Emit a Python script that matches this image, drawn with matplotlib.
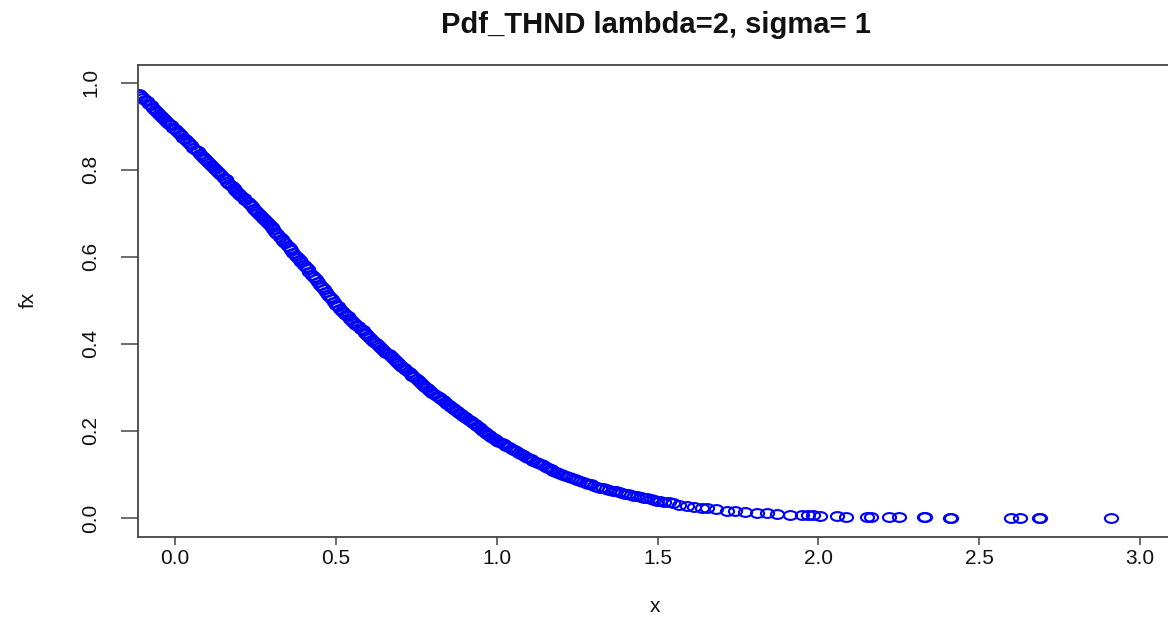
import matplotlib
matplotlib.use("Agg")
import matplotlib.pyplot as plt
from matplotlib.path import Path

plt.rcParams["font.family"] = ["Liberation Sans", "DejaVu Sans"]

# sample points (x, pdf value)
x_vals = [
    -0.112, -0.100, -0.088, -0.075, -0.062, -0.049, -0.037, -0.024, -0.012, 0.000,
    0.013, 0.026, 0.038, 0.051, 0.064, 0.077, 0.089, 0.100,
    0.112, 0.125, 0.138, 0.151, 0.163, 0.176, 0.188, 0.200,
    0.213, 0.226, 0.238, 0.251, 0.264, 0.276, 0.289, 0.300,
    0.312, 0.325, 0.337, 0.350, 0.362, 0.375, 0.387, 0.400,
    0.412, 0.425, 0.437, 0.450, 0.462, 0.475, 0.487, 0.500,
    0.513, 0.526, 0.538, 0.551, 0.564, 0.577, 0.589, 0.600,
    0.613, 0.626, 0.638, 0.651, 0.664, 0.677, 0.689, 0.700,
    0.713, 0.726, 0.738, 0.751, 0.764, 0.777, 0.789, 0.800,
    0.813, 0.826, 0.838, 0.851, 0.864, 0.877, 0.889, 0.900,
    0.913, 0.926, 0.938, 0.951, 0.964, 0.977, 0.989, 1.000,
    1.015, 1.030, 1.046, 1.061, 1.076, 1.091,
    1.106, 1.122, 1.137, 1.152, 1.168, 1.184, 1.199,
    1.216, 1.233, 1.251, 1.268, 1.285,
    1.303, 1.322, 1.341, 1.360, 1.380, 1.398,
    1.418, 1.437, 1.458, 1.479, 1.497,
    1.521, 1.547, 1.566, 1.590,
    1.614, 1.638, 1.655, 1.680,
    1.716, 1.742, 1.771, 1.808, 1.839, 1.870, 1.912, 1.948, 1.969, 1.984, 2.005,
    2.059, 2.086, 2.150, 2.162, 2.220, 2.251, 2.328, 2.330, 2.409, 2.411,
    2.598, 2.625, 2.687, 2.689, 2.909,
]
fx_vals = [
    0.975, 0.966, 0.957, 0.948, 0.938, 0.929, 0.920, 0.910, 0.902, 0.893,
    0.884, 0.874, 0.865, 0.856, 0.846, 0.837, 0.828, 0.820,
    0.811, 0.801, 0.792, 0.782, 0.773, 0.763, 0.754, 0.745,
    0.735, 0.725, 0.716, 0.706, 0.696, 0.686, 0.677, 0.668,
    0.658, 0.646, 0.636, 0.625, 0.615, 0.603, 0.593, 0.582,
    0.571, 0.559, 0.548, 0.536, 0.525, 0.513, 0.502, 0.490,
    0.481, 0.471, 0.463, 0.453, 0.444, 0.435, 0.426, 0.418,
    0.409, 0.401, 0.393, 0.384, 0.376, 0.367, 0.359, 0.352,
    0.344, 0.335, 0.327, 0.319, 0.310, 0.302, 0.294, 0.287,
    0.280, 0.273, 0.266, 0.259, 0.252, 0.245, 0.238, 0.232,
    0.225, 0.218, 0.211, 0.204, 0.197, 0.190, 0.184, 0.178,
    0.172, 0.166, 0.159, 0.153, 0.147, 0.141,
    0.135, 0.129, 0.123, 0.118, 0.112, 0.106, 0.100,
    0.096, 0.092, 0.087, 0.083, 0.079,
    0.074, 0.070, 0.066, 0.063, 0.059, 0.055,
    0.052, 0.050, 0.046, 0.043, 0.040,
    0.037, 0.034, 0.031, 0.028,
    0.026, 0.024, 0.022, 0.020,
    0.017, 0.016, 0.014, 0.012, 0.011, 0.009, 0.008, 0.007, 0.006, 0.006, 0.005,
    0.004, 0.003, 0.0025, 0.0024, 0.002, 0.0018, 0.0012, 0.0012, 0.001, 0.001,
    0.0006, 0.0005, 0.0004, 0.0004, 0.0002,
]

# further sample points lying between the ones above in the dense part
x_vals_b = [
    -0.106, -0.094, -0.081, -0.068, -0.055, -0.043, -0.030, -0.018, -0.006,
    0.006, 0.019, 0.032, 0.044, 0.057, 0.070, 0.083, 0.094,
    0.106, 0.118, 0.131, 0.144, 0.157, 0.169, 0.182, 0.194,
    0.206, 0.219, 0.232, 0.244, 0.257, 0.270, 0.282, 0.294,
    0.306, 0.318, 0.331, 0.343, 0.356, 0.368, 0.381, 0.393,
    0.406, 0.418, 0.431, 0.443, 0.456, 0.468, 0.481, 0.493,
    0.506, 0.519, 0.532, 0.544, 0.557, 0.570, 0.583, 0.594,
    0.606, 0.619, 0.632, 0.644, 0.657, 0.670, 0.683, 0.694,
    0.706, 0.719, 0.732, 0.744, 0.757, 0.770, 0.783, 0.794,
    0.806, 0.819, 0.832, 0.844, 0.857, 0.870, 0.883, 0.894,
    0.906, 0.919, 0.932, 0.944, 0.957, 0.970, 0.983, 0.994,
    1.007, 1.022, 1.038, 1.053, 1.068, 1.083, 1.098,
    1.114, 1.129, 1.144, 1.160, 1.176, 1.191,
    1.207, 1.224, 1.242, 1.259, 1.276, 1.294,
    1.312, 1.331, 1.350, 1.370, 1.389,
    1.408, 1.428, 1.447, 1.468, 1.488, 1.509, 1.534,
]
fx_vals_b = [
    0.970, 0.961, 0.952, 0.943, 0.933, 0.924, 0.915, 0.906, 0.897,
    0.888, 0.879, 0.870, 0.861, 0.851, 0.842, 0.832, 0.824,
    0.815, 0.806, 0.797, 0.787, 0.778, 0.768, 0.759, 0.750,
    0.740, 0.730, 0.721, 0.711, 0.701, 0.691, 0.682, 0.673,
    0.663, 0.652, 0.641, 0.631, 0.620, 0.609, 0.598, 0.588,
    0.577, 0.565, 0.554, 0.542, 0.531, 0.519, 0.508, 0.496,
    0.486, 0.476, 0.467, 0.458, 0.449, 0.440, 0.431, 0.422,
    0.414, 0.405, 0.397, 0.389, 0.380, 0.372, 0.363, 0.356,
    0.348, 0.340, 0.331, 0.323, 0.315, 0.306, 0.298, 0.291,
    0.284, 0.277, 0.270, 0.263, 0.256, 0.249, 0.242, 0.235,
    0.229, 0.222, 0.215, 0.208, 0.201, 0.194, 0.187, 0.181,
    0.175, 0.169, 0.163, 0.156, 0.150, 0.144, 0.138,
    0.132, 0.126, 0.121, 0.115, 0.109, 0.103,
    0.098, 0.094, 0.090, 0.085, 0.081, 0.077,
    0.072, 0.068, 0.065, 0.061, 0.057,
    0.054, 0.051, 0.048, 0.045, 0.042, 0.039, 0.036,
]

x_ticks = [0.0, 0.5, 1.0, 1.5, 2.0, 2.5, 3.0]
y_ticks = [0.0, 0.2, 0.4, 0.6, 0.8, 1.0]
title = "Pdf_THND lambda=2, sigma= 1"
x_label = "x"
y_label = "fx"

W, H = 1168, 619
fig = plt.figure(figsize=(W / 100, H / 100), dpi=100)
left_px, right_px, top_px, bottom_px = 137.5, 1173, 65, 536.5
ax = fig.add_axes([left_px / W, 1 - bottom_px / H,
                   (right_px - left_px) / W, (bottom_px - top_px) / H])

circ = Path.unit_circle()
ell = Path(circ.vertices * [1.5, 1.0], circ.codes)
ax.plot(x_vals + x_vals_b, fx_vals + fx_vals_b, linestyle="none", marker=ell,
        markersize=9.5, markerfacecolor="none", markeredgecolor="#0000ff",
        markeredgewidth=1.5)

ax.set_xlim(-0.1166, 3.102)
ax.set_ylim(-0.0425, 1.0407)
ax.set_xticks(x_ticks)
ax.set_xticklabels([f"{v:.1f}" for v in x_ticks])
ax.set_yticks(y_ticks)
ax.set_yticklabels([f"{v:.1f}" for v in y_ticks])

for s in ax.spines.values():
    s.set_color("#444444")
    s.set_linewidth(1.3)

ax.tick_params(axis="x", length=6, width=1.1, color="#444444", labelsize=15,
               pad=3, labelcolor="#111111")
ax.tick_params(axis="y", length=12, width=1.1, color="#444444", labelsize=15,
               pad=15, labelcolor="#111111", labelrotation=90)
for lab in ax.get_yticklabels():
    lab.set_verticalalignment("center")

fig.text(655.5 / W, 1 - 25 / H, title, ha="center", va="center",
         fontsize=21, fontweight="bold", color="#111111")
fig.text(655 / W, 1 - 607 / H, x_label, ha="center", va="center",
         fontsize=15, color="#111111")
fig.text(28 / W, 1 - 300 / H, y_label, ha="center", va="center",
         rotation=90, fontsize=15, color="#111111")

fig.savefig("out.png", dpi=100)
